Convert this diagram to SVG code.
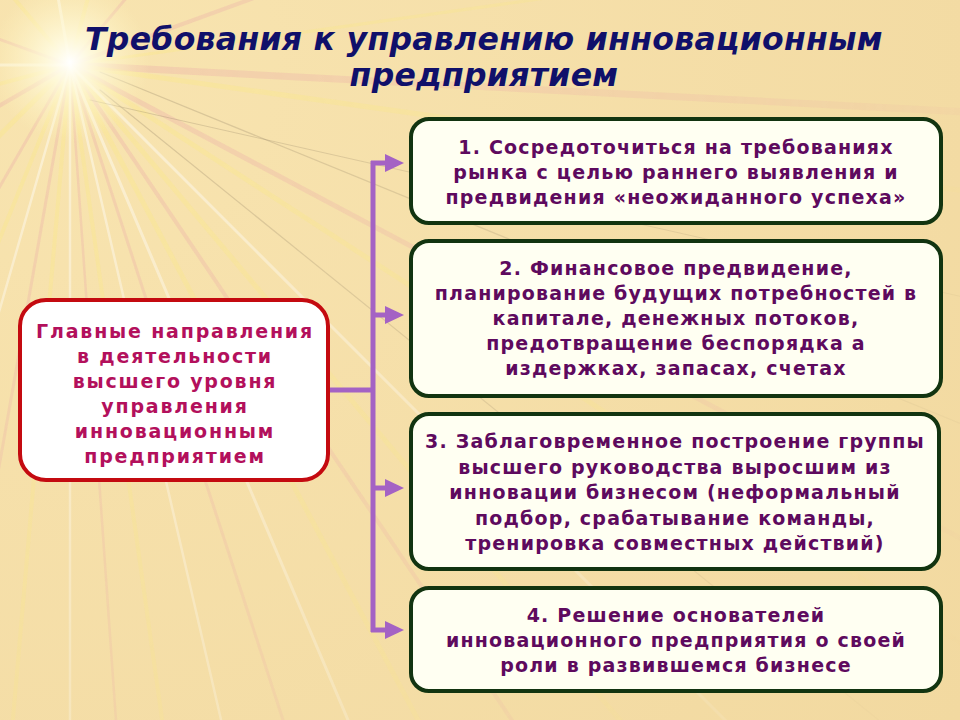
<svg xmlns="http://www.w3.org/2000/svg" width="960" height="720" viewBox="0 0 960 720">
<defs>
<style>
.title{font-family:"DejaVu Sans","Liberation Sans",sans-serif;font-weight:bold;font-style:italic;font-size:31.5px;fill:#10106a;text-anchor:middle;letter-spacing:0.3px}
.lt{font-family:"DejaVu Sans","Liberation Sans",sans-serif;font-weight:bold;font-size:19px;fill:#b3105c;text-anchor:middle;letter-spacing:1.8px}
.bt{font-family:"DejaVu Sans","Liberation Sans",sans-serif;font-weight:bold;font-size:19px;fill:#5e0a5e;text-anchor:middle;letter-spacing:1.2px}
.box{fill:#fffff2;stroke:#123410;stroke-width:4}
.conn{stroke:#a462c4;stroke-width:5;fill:none}
.ah{fill:#a462c4}
.ray{fill:none;stroke-linecap:round}
</style>
<radialGradient id="fade" gradientUnits="userSpaceOnUse" cx="70" cy="65" r="1100">
<stop offset="0" stop-color="#fff"/>
<stop offset="0.6" stop-color="#888"/>
<stop offset="1" stop-color="#000"/>
</radialGradient>
<mask id="m"><rect x="0" y="0" width="960" height="720" fill="url(#fade)"/></mask>
<radialGradient id="glow" gradientUnits="userSpaceOnUse" cx="70" cy="62" r="80">
<stop offset="0" stop-color="#ffffff" stop-opacity="1"/>
<stop offset="0.3" stop-color="#fffbe0" stop-opacity="0.85"/>
<stop offset="1" stop-color="#fff5c0" stop-opacity="0"/>
</radialGradient>
<radialGradient id="bg" gradientUnits="userSpaceOnUse" cx="70" cy="65" r="1100">
<stop offset="0" stop-color="#f8e4b0"/>
<stop offset="1" stop-color="#f2d9a0"/>
</radialGradient>
</defs>

<g id="background">
<rect x="0" y="0" width="960" height="720" fill="url(#bg)"/>
<g mask="url(#m)">
<g class="ray" stroke="#eca8a8" stroke-opacity="0.35">
<line x1="70" y1="65" x2="1292" y2="-380" stroke-width="4"/>
<line x1="70" y1="65" x2="1368" y2="133" stroke-width="7"/>
<line x1="70" y1="65" x2="1218" y2="675" stroke-width="5"/>
<line x1="70" y1="65" x2="797" y2="1143" stroke-width="4"/>
<line x1="70" y1="65" x2="472" y2="1301" stroke-width="3"/>
<line x1="70" y1="65" x2="161" y2="1362" stroke-width="2.5"/>
<line x1="70" y1="65" x2="-156" y2="1345" stroke-width="3"/>
<line x1="70" y1="65" x2="-580" y2="1191" stroke-width="3"/>
<line x1="70" y1="65" x2="-1056" y2="715" stroke-width="4"/>
<line x1="70" y1="65" x2="-1152" y2="-380" stroke-width="3"/>
<line x1="70" y1="65" x2="906" y2="-931" stroke-width="3"/>
</g>
<g class="ray" stroke="#fbe888" stroke-opacity="0.4">
<line x1="70" y1="65" x2="1357" y2="246" stroke-width="5"/>
<line x1="70" y1="65" x2="1161" y2="773" stroke-width="5"/>
<line x1="70" y1="65" x2="906" y2="1061" stroke-width="5"/>
<line x1="70" y1="65" x2="680" y2="1213" stroke-width="5"/>
<line x1="70" y1="65" x2="251" y2="1352" stroke-width="4"/>
<line x1="70" y1="65" x2="-43" y2="1360" stroke-width="4"/>
<line x1="70" y1="65" x2="-417" y2="1270" stroke-width="4"/>
<line x1="70" y1="65" x2="-849" y2="984" stroke-width="5"/>
<line x1="70" y1="65" x2="-1186" y2="402" stroke-width="4"/>
<line x1="70" y1="65" x2="-766" y2="-931" stroke-width="4"/>
<line x1="70" y1="65" x2="407" y2="-1191" stroke-width="4"/>
<line x1="70" y1="65" x2="1357" y2="-116" stroke-width="3"/>
</g>
<g class="ray" stroke="#ffffff" stroke-opacity="0.45">
<line x1="70" y1="65" x2="989" y2="984" stroke-width="3"/>
<line x1="70" y1="65" x2="578" y2="1262" stroke-width="3"/>
<line x1="70" y1="65" x2="362" y2="1331" stroke-width="2.5"/>
<line x1="70" y1="65" x2="70" y2="1365" stroke-width="2.5"/>
<line x1="70" y1="65" x2="-289" y2="1314" stroke-width="2.5"/>
<line x1="70" y1="65" x2="-1230" y2="65" stroke-width="3"/>
<line x1="70" y1="65" x2="-156" y2="-1215" stroke-width="3"/>
</g>
<g class="ray" stroke="#8a7a60" stroke-opacity="0.3">
<line x1="100" y1="72" x2="1275" y2="552" stroke-width="1.2"/>
<line x1="100" y1="90" x2="1080" y2="883" stroke-width="1.2"/>
<line x1="90" y1="100" x2="1331" y2="380" stroke-width="1"/>
</g>
</g>
<circle cx="70" cy="62" r="80" fill="url(#glow)"/>
</g>

<g id="title">
<text class="title" x="484" y="50">Требования к управлению инновационным</text>
<text class="title" x="484" y="86">предприятием</text>
</g>

<g id="connectors">
<line class="conn" x1="328" y1="390" x2="373" y2="390"/>
<line class="conn" x1="373" y1="161" x2="373" y2="632"/>
<line class="conn" x1="371" y1="163" x2="388" y2="163"/>
<line class="conn" x1="373" y1="315" x2="388" y2="315"/>
<line class="conn" x1="373" y1="488" x2="388" y2="488"/>
<line class="conn" x1="371" y1="630" x2="388" y2="630"/>
<polygon class="ah" points="385,154 404,163 385,172"/>
<polygon class="ah" points="385,306 404,315 385,324"/>
<polygon class="ah" points="385,479 404,488 385,497"/>
<polygon class="ah" points="385,621 404,630 385,639"/>
</g>

<g id="main">
<rect x="20" y="300" width="308" height="180" rx="26" fill="#ffffff" stroke="#c40a10" stroke-width="4"/>
<text class="lt" x="175" y="338">Главные направления</text>
<text class="lt" x="175" y="363">в деятельности</text>
<text class="lt" x="175" y="388">высшего уровня</text>
<text class="lt" x="175" y="413">управления</text>
<text class="lt" x="175" y="438">инновационным</text>
<text class="lt" x="175" y="463">предприятием</text>
</g>

<g id="box1">
<rect class="box" x="411" y="119" width="530" height="104" rx="18"/>
<text class="bt" x="676" y="154">1. Сосредоточиться на требованиях</text>
<text class="bt" x="676" y="179">рынка с целью раннего выявления и</text>
<text class="bt" x="676" y="204">предвидения «неожиданного успеха»</text>
</g>

<g id="box2">
<rect class="box" x="411" y="241" width="530" height="155" rx="18"/>
<text class="bt" x="676" y="275">2. Финансовое предвидение,</text>
<text class="bt" x="676" y="300">планирование будущих потребностей в</text>
<text class="bt" x="676" y="325">капитале, денежных потоков,</text>
<text class="bt" x="676" y="350">предотвращение беспорядка а</text>
<text class="bt" x="676" y="375">издержках, запасах, счетах</text>
</g>

<g id="box3">
<rect class="box" x="411" y="414" width="528" height="155" rx="18"/>
<text class="bt" x="675" y="448">3. Заблаговременное построение группы</text>
<text class="bt" x="675" y="474">высшего руководства выросшим из</text>
<text class="bt" x="675" y="499">инновации бизнесом (неформальный</text>
<text class="bt" x="675" y="525">подбор, срабатывание команды,</text>
<text class="bt" x="675" y="550">тренировка совместных действий)</text>
</g>

<g id="box4">
<rect class="box" x="411" y="588" width="530" height="103" rx="18"/>
<text class="bt" x="676" y="622">4. Решение основателей</text>
<text class="bt" x="676" y="647">инновационного предприятия о своей</text>
<text class="bt" x="676" y="672">роли в развившемся бизнесе</text>
</g>
</svg>
